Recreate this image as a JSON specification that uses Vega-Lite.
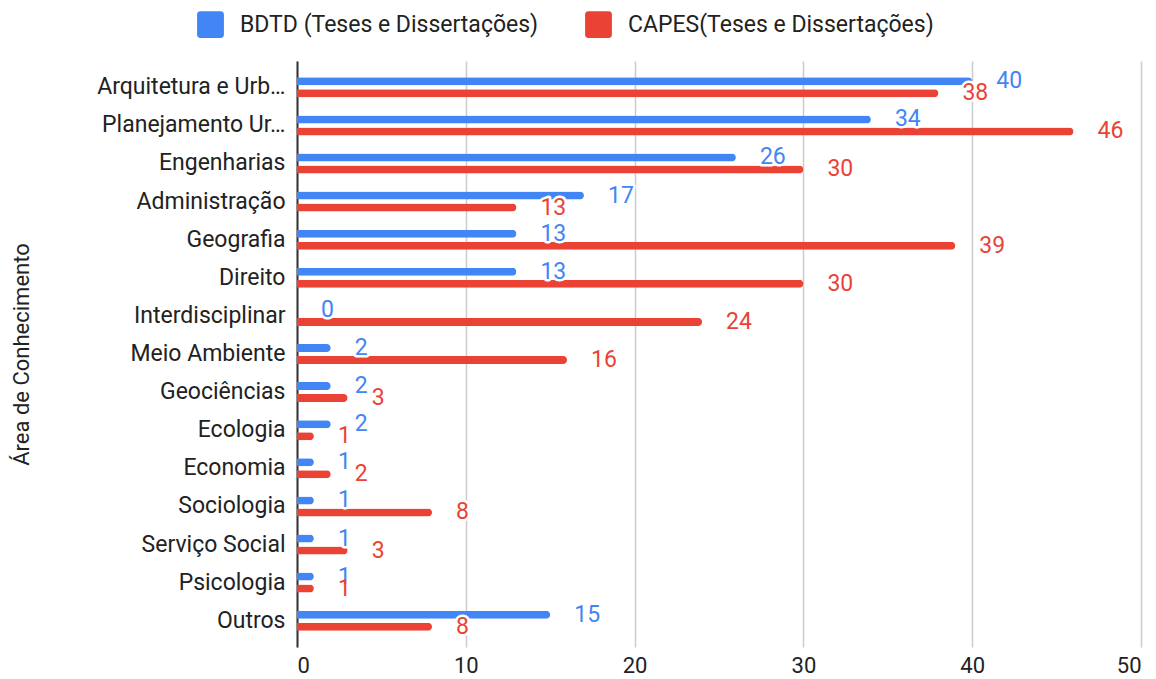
{
  "$schema": "https://vega.github.io/schema/vega-lite/v6.json",
  "width": 844,
  "height": 586,
  "autosize": {"type": "none"},
  "padding": {"left": 297, "top": 61, "right": 15, "bottom": 32},
  "background": "white",
  "config": {
    "font": "Roboto",
    "view": {"stroke": null},
    "axis": {"labelFont": "Roboto", "titleFont": "Roboto", "labelColor": "#222222", "titleColor": "#222222", "titleFontWeight": "normal"},
    "legend": {"labelFont": "Roboto", "labelColor": "#222222"}
  },
  "data": {
    "values": [
      {"area": "Arquitetura e Urbanismo", "fonte": "BDTD (Teses e Dissertações)", "valor": 40},
      {"area": "Arquitetura e Urbanismo", "fonte": "CAPES(Teses e Dissertações)", "valor": 38},
      {"area": "Planejamento Urbano e Regional", "fonte": "BDTD (Teses e Dissertações)", "valor": 34},
      {"area": "Planejamento Urbano e Regional", "fonte": "CAPES(Teses e Dissertações)", "valor": 46},
      {"area": "Engenharias", "fonte": "BDTD (Teses e Dissertações)", "valor": 26},
      {"area": "Engenharias", "fonte": "CAPES(Teses e Dissertações)", "valor": 30},
      {"area": "Administração", "fonte": "BDTD (Teses e Dissertações)", "valor": 17},
      {"area": "Administração", "fonte": "CAPES(Teses e Dissertações)", "valor": 13},
      {"area": "Geografia", "fonte": "BDTD (Teses e Dissertações)", "valor": 13},
      {"area": "Geografia", "fonte": "CAPES(Teses e Dissertações)", "valor": 39},
      {"area": "Direito", "fonte": "BDTD (Teses e Dissertações)", "valor": 13},
      {"area": "Direito", "fonte": "CAPES(Teses e Dissertações)", "valor": 30},
      {"area": "Interdisciplinar", "fonte": "BDTD (Teses e Dissertações)", "valor": 0},
      {"area": "Interdisciplinar", "fonte": "CAPES(Teses e Dissertações)", "valor": 24},
      {"area": "Meio Ambiente", "fonte": "BDTD (Teses e Dissertações)", "valor": 2},
      {"area": "Meio Ambiente", "fonte": "CAPES(Teses e Dissertações)", "valor": 16},
      {"area": "Geociências", "fonte": "BDTD (Teses e Dissertações)", "valor": 2},
      {"area": "Geociências", "fonte": "CAPES(Teses e Dissertações)", "valor": 3},
      {"area": "Ecologia", "fonte": "BDTD (Teses e Dissertações)", "valor": 2},
      {"area": "Ecologia", "fonte": "CAPES(Teses e Dissertações)", "valor": 1},
      {"area": "Economia", "fonte": "BDTD (Teses e Dissertações)", "valor": 1},
      {"area": "Economia", "fonte": "CAPES(Teses e Dissertações)", "valor": 2},
      {"area": "Sociologia", "fonte": "BDTD (Teses e Dissertações)", "valor": 1},
      {"area": "Sociologia", "fonte": "CAPES(Teses e Dissertações)", "valor": 8},
      {"area": "Serviço Social", "fonte": "BDTD (Teses e Dissertações)", "valor": 1},
      {"area": "Serviço Social", "fonte": "CAPES(Teses e Dissertações)", "valor": 3},
      {"area": "Psicologia", "fonte": "BDTD (Teses e Dissertações)", "valor": 1},
      {"area": "Psicologia", "fonte": "CAPES(Teses e Dissertações)", "valor": 1},
      {"area": "Outros", "fonte": "BDTD (Teses e Dissertações)", "valor": 15},
      {"area": "Outros", "fonte": "CAPES(Teses e Dissertações)", "valor": 8}
    ]
  },
  "encoding": {
    "y": {
      "field": "area",
      "type": "nominal",
      "sort": null,
      "scale": {"paddingInner": 0.3, "paddingOuter": 0.34},
      "axis": {
        "title": "Área de Conhecimento",
        "titleFontSize": 22,
        "titlePadding": 64,
        "labelFontSize": 23,
        "labelLimit": 195,
        "labelPadding": 12,
        "ticks": false,
        "grid": false,
        "domain": true,
        "domainColor": "#333333",
        "domainWidth": 2
      }
    },
    "yOffset": {
      "field": "fonte",
      "type": "nominal",
      "scale": {"paddingInner": 0.333, "paddingOuter": 0.278}
    },
    "x": {
      "field": "valor",
      "type": "quantitative",
      "scale": {"domain": [0, 50], "nice": false},
      "axis": {
        "title": null,
        "values": [0, 10, 20, 30, 40, 50],
        "labelFontSize": 22,
        "labelPadding": 8,
        "ticks": false,
        "domain": false,
        "grid": true,
        "gridColor": "#cccccc",
        "gridWidth": 1.5
      }
    }
  },
  "layer": [
    {
      "mark": {"type": "bar", "cornerRadiusEnd": 4},
      "encoding": {
        "color": {
          "field": "fonte",
          "type": "nominal",
          "scale": {
            "domain": ["BDTD (Teses e Dissertações)", "CAPES(Teses e Dissertações)"],
            "range": ["#4285F4", "#EA4335"]
          },
          "legend": {
            "title": null,
            "orient": "none",
            "direction": "horizontal",
            "legendX": -100,
            "legendY": -50,
            "labelFontSize": 23,
            "labelLimit": 500,
            "symbolType": "M-0.75,-1H0.75Q1,-1,1,-0.75V0.75Q1,1,0.75,1H-0.75Q-1,1,-1,0.75V-0.75Q-1,-1,-0.75,-1Z",
            "symbolSize": 720,
            "symbolStrokeWidth": 0,
            "symbolOpacity": 1,
            "labelOffset": 16,
            "columnPadding": 46
          }
        }
      }
    },
    {
      "mark": {"type": "text", "align": "left", "baseline": "middle", "dx": 24, "fontSize": 23, "font": "Roboto", "color": "white", "stroke": "white", "strokeWidth": 5, "strokeJoin": "round"},
      "encoding": {
        "text": {"field": "valor", "type": "quantitative"}
      }
    },
    {
      "mark": {"type": "text", "align": "left", "baseline": "middle", "dx": 24, "fontSize": 23, "font": "Roboto"},
      "encoding": {
        "text": {"field": "valor", "type": "quantitative"},
        "color": {"field": "fonte", "type": "nominal", "legend": null}
      }
    }
  ]
}
